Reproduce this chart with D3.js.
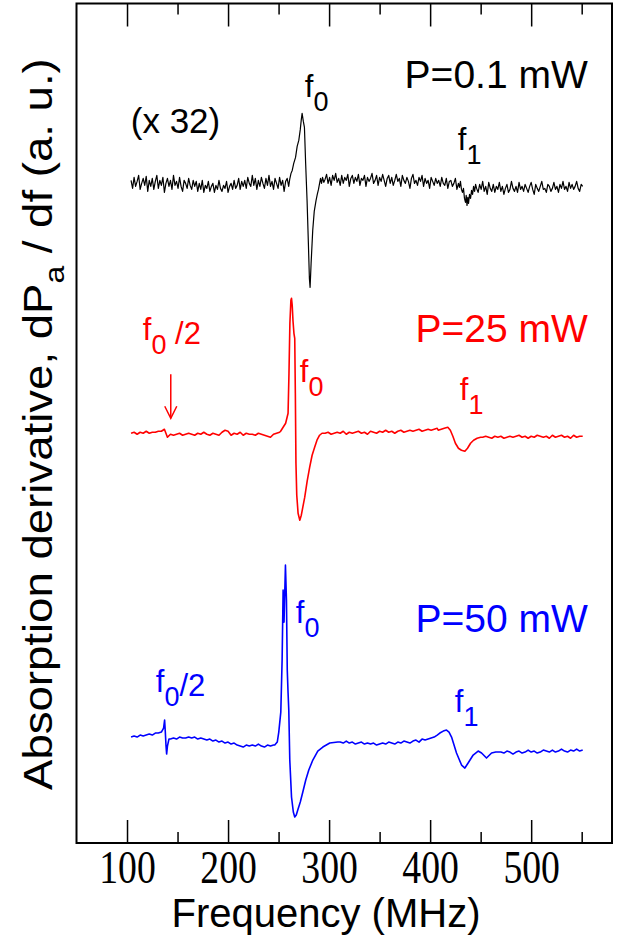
<!DOCTYPE html>
<html>
<head>
<meta charset="utf-8">
<script src="https://cdn.jsdelivr.net/npm/d3@7"></script>
<style>
  body { margin: 0; background: #fff; }
  text { font-family: "Liberation Sans", Arial, sans-serif; }
</style>
</head>
<body>
<script>
// frequency grids the traces are sampled on (MHz)
const freqStart = 104;
const traceSteps = [1.5, 3, 3];

// baseline of each trace (a.u.)
const traceColors = ['#000000', '#ff0000', '#0000ff'];
const traceBase = [660, 410, 103];

// deviations from baseline on the grid, null = replaced by a feature below
const blackGrid = [
  3,-5,6,-3,2,8,-6,0,5,-2,7,-8,3,-3,5, -6,2,8,-5,3,-2,6,-9,0,5,-3,3,-6,8,-2,
  2,-5,6,-3,-8,3,0,-5,5,-2,-6,3,-3,2,-8, 0,-6,3,-9,-2,-5,2,-8,-3,0,-9,-2,-6,3,-5,
  -8,-2,-5,2,-9,-3,0,-6,3,-5,-2,5,-6,2,-3, 3,-5,6,0,-3,8,-2,5,-6,3,-3,6,0,-5,5,
  -2,8,-3,2,-6,5,0,-5,6,-2,3,-8,2,5,-3,
  null,null,null,null,null,null,null,null,null,null,null,null,null,null,null,null,null,null,null,null,null,null,null,
  4,9,0,6,-2,8,3,10,1,5,-2,8,0,6,3, 9,-3,5,8,0,6,2,9,-2,5,3,8,-3,6,2,
  5,10,0,3,8,-2,6,2,9,3,-3,5,8,0,6, -2,3,9,2,5,-3,8,3,0,6,2,-5,5,9,0,
  3,-2,6,2,8,-3,5,0,3,-5,6,2,-2,5,0, 3,-3,6,0,-2,5,-5,2,3,-3,0,5,-6,
  null,null,null,null,null,null,null,null,null,null,null,null,null,
  -9,-1,-6,2,-8,-3,-11,1,-5,-8,-1,-9,-3,-6,1, -8,-3,-11,-5,-1,-9,-6,2,-5,-8,-3,-9,1,-6,-3,
  -8,-1,-5,-9,-3,1,-6,-11,-1,-5,-8,-3,2,-6,-5, -9,-1,-3,-8,-5,1,-6,-3,-9,-1,-5,2,-6,-3,-8,
  1,-5,-1,-6,-3,2,-5,-8,-1,-3];

const redGrid = [0,1,-1,1,0,2,0,1,1,2, 2,4,-4,-1,-2,-1,0,-2,-1,0, -1,-2,0,-1,1,-1,-2,0,-1,-2,
  1,3,2,-2,0,-1,1,-2,0,-1, -1,-2,0,-1,-2,-3,-4,-1,0,1,
  null,null,null,null,null,null,null,null,null,null,null,null,null,null,
  0,1,-1,0,1,0,2,-1,1,0, 1,2,0,1,-1,2,1,0,2,1, 3,1,2,0,2,3,1,2,3,2, 3,4,2,3,4,3,4,5,
  null,null,null,null,null,null,null,null,null,null,null,null,null,null,
  -4,-3,-4,-5,-3,-4,-3,-5,-4,-3, -4,-3,-2,-4,-3,-5,-3,-4,-2,-3, -4,-3,-5,-2,-4,-3,-2,-4,-3,-5, -2,-4,-3,-3];

const blueGrid = [3,4,3,5,4,5,6,5,7,7, null,null,null, 1,2,1,3,2,2,3, 2,3,1,2,1,0,1,-1,0,-2,
  -1,-3,-2,-4,-3,-5,-6,-7,-5,-6, -5,-6,-4,-6,-7,-5,-6,-5,
  null,null,null,null,null,null,null,null,null,null,null,null,null,null,null,null,null,null,null,null,null,
  -2,-3,-1,-3,-2,-4,-3,-2,-4,-3, -4,-3,-5,-4,-3,-4,-2,-3,-4,-2, -3,-1,-2,-3,-1,0,-2,1,0,1, 2,3,5,
  null,null,null,null,null,null,null,null,null,null,null,null,null,null,null,null,null,null,null,null,
  -12,-13,-11,-12,-14,-12,-11,-13,-12,-10, -12,-11,-13,-12,-10,-11,-12,-10,-12,-11, -9,-11,-12,-10,-11,-9,-11,-10];

// resonance features [freq, deviation]
const blackF0 = [[261,4],[262.3,10],[263.5,13],[265,20],[266.8,26],[268.4,37],[270,43],[271.5,54],[272.4,63],[273.3,70],
  [274.5,62],[275.6,56],[276.8,20],[278.2,-17],[279.5,-60],[280.5,-95],[281.2,-104],[282.2,-80],[283.8,-47],
  [285.3,-28],[287.1,-17],[288.3,-11],[289.5,-6],[290.4,-1],[291.5,5],[292.5,0],[293.5,6],[294.8,1]];
const blackF1 = [[428,0],[429,-4],[430,2],[431,-6],[432,-9],[433,-5],[434,-15],[435,-19],[435.7,-12],[436.5,-22],
  [437.3,-14],[438,-20],[439,-11],[440,-15],[441,-7],[442,-11],[443,-3],[444,-8],[445,-1],[446,-5]];

const redF0 = [[252,2],[254.5,6],[257,10],[259.4,20],[260.3,60],[261.2,110],[262.2,133],[262.8,135],[263.5,128],
  [264.3,112],[265.2,100],[266,95],[266.6,40],[267.2,-30],[268,-62],[269.3,-80],[271,-87],[272.5,-82],[274,-74],
  [275.9,-64],[278.3,-48],[280.8,-34],[283.2,-22],[285.7,-14],[288,-7],[290.6,-2],[293,0]];
const redF1 = [[408,3],[411,4],[414,5],[417.5,6],[420,3],[422.5,-3],[425,-10],[428,-15],[431,-17],[434.4,-18],
  [437,-15],[440,-10],[443,-7],[446.5,-5],[450,-4]];

const blueHalf = [[134,8],[136.2,12],[137.2,20],[137.9,8],[138.6,-6],[139.2,-14],[140,-6],[141.5,1]];
const blueF0 = [[246.2,-5],[248.7,-2],[250.2,8],[252.2,28],[253.5,80],[254.5,150],[255.4,118],[256.8,175],
  [257.8,140],[258.6,70],[259.4,47],[260.1,30],[261.1,-20],[262.8,-57],[264.6,-72],[266,-77],[267.5,-75],
  [269,-70],[271.5,-62],[274,-52],[276.9,-40],[279.9,-30],[283.9,-20],[288.8,-11],[293.8,-7],[300.7,-3],[308.6,-2]];
const blueF1 = [[409.6,7],[413,9],[416.2,10],[418.7,8],[421.2,3],[426.1,-13],[431.1,-25],[434.4,-28],[437.6,-23],
  [442.6,-15],[447.5,-11],[450.9,-13],[455.8,-18],[460.8,-13],[465,-12],[469,-12]];

// x axis ticks
const majorTicks = [100, 200, 300, 400, 500];
const minorTicks = [150, 250, 350, 450, 550];

// annotations
const powerLabels = [
  {text: 'P=0.1 mW', f: 556, v: 755, color: '#000000'},
  {text: 'P=25 mW', f: 556, v: 501, color: '#ff0000'},
  {text: 'P=50 mW', f: 556, v: 211, color: '#0000ff'}
];
const peakLabels = [
  {sub: '0', tail: '', f: 276, v: 746, color: '#000000'},
  {sub: '1', tail: '', f: 427.4, v: 693, color: '#000000'},
  {sub: '0', tail: ' /2', f: 115.6, v: 503, color: '#ff0000'},
  {sub: '0', tail: '', f: 271, v: 461, color: '#ff0000'},
  {sub: '1', tail: '', f: 429.4, v: 443, color: '#ff0000'},
  {sub: '0', tail: '/2', f: 128.5, v: 151, color: '#0000ff'},
  {sub: '0', tail: '', f: 267, v: 220, color: '#0000ff'},
  {sub: '1', tail: '', f: 424.4, v: 131, color: '#0000ff'}
];
const scaleNote = {text: '(x 32)', f: 103.7, v: 710};
const arrow = {f: 143.3, v0: 469, v1: 425};

var margin = {top: 3.5, right: 5, bottom: 93, left: 76.5},
    width = 617 - margin.left - margin.right,
    height = 936 - margin.top - margin.bottom;

var x = d3.scaleLinear().domain([50, 580]).range([0, width]);
var y = d3.scaleLinear().domain([0, 840]).range([height, 0]);

var svg = d3.select('body').append('svg')
    .attr('width', 617)
    .attr('height', 936)
    .append('g')
    .attr('transform', 'translate(' + margin.left + ',' + margin.top + ')');

function buildTrace(base, step, grid, features) {
    var pts = grid.map((d, i) => [freqStart + i * step, d])
        .filter(p => p[1] !== null)
        .filter(p => !features.some(ft => p[0] >= ft[0][0] && p[0] <= ft[ft.length - 1][0]));
    features.forEach(ft => { pts = pts.concat(ft); });
    pts.sort((a, b) => a[0] - b[0]);
    return pts.map(p => ({f: p[0], v: base + p[1]}));
}

var traces = [
    buildTrace(traceBase[0], traceSteps[0], blackGrid, [blackF0, blackF1]),
    buildTrace(traceBase[1], traceSteps[1], redGrid, [redF0, redF1]),
    buildTrace(traceBase[2], traceSteps[2], blueGrid, [blueHalf, blueF0, blueF1])
];

var line = d3.line().x(d => x(d.f)).y(d => y(d.v));

svg.selectAll('.trace')
    .data(traces)
    .join('path')
    .attr('class', 'trace')
    .attr('d', line)
    .style('fill', 'none')
    .style('stroke', (d, i) => traceColors[i])
    .style('stroke-width', (d, i) => i == 0 ? 1.2 : 1.6)
    .style('stroke-linejoin', 'round');

// axes, ticks pointing inward
svg.append('g')
    .attr('transform', 'translate(0,' + height + ')')
    .call(d3.axisBottom(x).tickValues(majorTicks).tickSizeInner(-23).tickSizeOuter(0))
    .call(g => g.select('.domain').remove())
    .call(g => g.selectAll('line').attr('stroke-width', 1.5))
    .call(g => g.selectAll('text')
        .attr('y', 40).attr('dy', null)
        .attr('transform', 'scale(0.82,1)')
        .style('font-family', '"Liberation Serif", "Times New Roman", serif')
        .style('font-size', '46px')
        .attr('fill', '#000'));

svg.append('g')
    .attr('transform', 'translate(0,' + height + ')')
    .call(d3.axisBottom(x).tickValues(minorTicks).tickSizeInner(-11).tickSizeOuter(0).tickFormat(''))
    .call(g => g.select('.domain').remove())
    .call(g => g.selectAll('line').attr('stroke-width', 1.5));

svg.append('g')
    .call(d3.axisTop(x).tickValues(majorTicks).tickSizeInner(-23).tickSizeOuter(0).tickFormat(''))
    .call(g => g.select('.domain').remove())
    .call(g => g.selectAll('line').attr('stroke-width', 1.5));

svg.append('g')
    .call(d3.axisTop(x).tickValues(minorTicks).tickSizeInner(-11).tickSizeOuter(0).tickFormat(''))
    .call(g => g.select('.domain').remove())
    .call(g => g.selectAll('line').attr('stroke-width', 1.5));

svg.append('rect')
    .attr('width', width)
    .attr('height', height)
    .style('fill', 'none')
    .style('stroke', '#000')
    .style('stroke-width', 2);

// axis titles
svg.append('text')
    .attr('x', 326 - margin.left)
    .attr('y', 927 - margin.top)
    .style('text-anchor', 'middle')
    .style('font-size', '40px')
    .text('Frequency (MHz)');

var ylab = svg.append('text')
    .style('font-size', '40px');
ylab.append('tspan').text('Absorption derivative, dP');
ylab.append('tspan').attr('dy', 12).style('font-size', '28px').text('a');
ylab.append('tspan').attr('dy', -12).text(' / df (a. u.)');
var ylen = ylab.node().getComputedTextLength();
ylab.attr('transform', 'translate(' + (52 - margin.left) + ',' + (790 - margin.top) + ') rotate(-90) scale(' + (732 / ylen) + ',1)');

// annotations
svg.selectAll('.plabel')
    .data(powerLabels)
    .join('text')
    .attr('class', 'plabel')
    .attr('x', d => x(d.f))
    .attr('y', d => y(d.v))
    .style('text-anchor', 'end')
    .style('font-size', '39px')
    .style('fill', d => d.color)
    .text(d => d.text);

var pk = svg.selectAll('.pk')
    .data(peakLabels)
    .join('text')
    .attr('class', 'pk')
    .attr('x', d => x(d.f))
    .attr('y', d => y(d.v))
    .style('font-size', '31px')
    .style('fill', d => d.color);
pk.append('tspan').text('f');
pk.append('tspan').attr('dy', 14).style('font-size', '27px').text(d => d.sub);
pk.append('tspan').attr('dy', -10).text(d => d.tail);

svg.append('text')
    .attr('x', x(scaleNote.f))
    .attr('y', y(scaleNote.v))
    .style('font-size', '35px')
    .text(scaleNote.text);

svg.append('line')
    .attr('x1', x(arrow.f)).attr('x2', x(arrow.f))
    .attr('y1', y(arrow.v0)).attr('y2', y(arrow.v1))
    .style('stroke', '#ff0000').style('stroke-width', 1.5);
svg.append('path')
    .attr('d', 'M' + (x(arrow.f) - 6) + ',' + (y(arrow.v1) - 12) + 'L' + x(arrow.f) + ',' + y(arrow.v1) + 'L' + (x(arrow.f) + 6) + ',' + (y(arrow.v1) - 12))
    .style('fill', 'none').style('stroke', '#ff0000').style('stroke-width', 1.5);
</script>
</body>
</html>
